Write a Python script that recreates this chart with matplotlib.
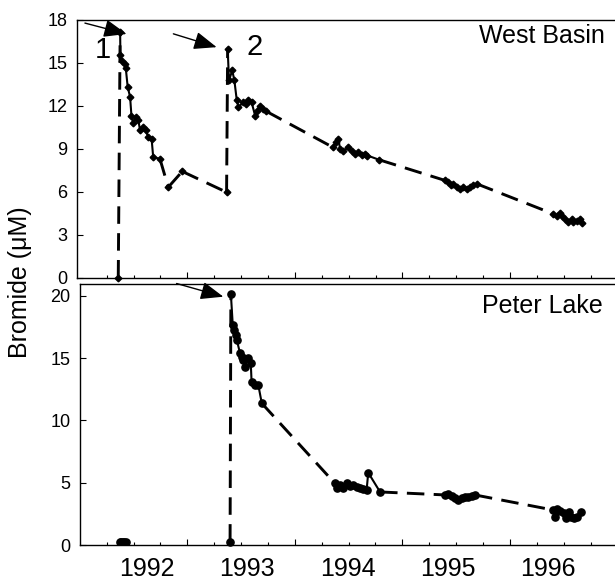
import matplotlib
matplotlib.use("Agg")
import matplotlib.pyplot as plt
import matplotlib.transforms as mtransforms

plt.rcParams['font.family'] = ['Liberation Sans', 'DejaVu Sans']

# x = days since 1 Jan 1991, y = bromide (uM)
# West Basin
wb_day_0 = [143]
wb_br_0 = [0.0]
wb_day_1 = [150, 151, 158, 168, 171, 178, 187, 192, 198, 208, 218, 224, 236, 245, 255, 267, 273, 298]
wb_br_1 = [17.1, 15.5, 15.1, 14.9, 14.6, 13.3, 12.6, 11.3, 10.8, 11.2, 10.96, 10.26, 10.5, 10.26, 9.79, 9.68, 8.4, 8.28]
wb_day_2 = [329]
wb_br_2 = [6.3]
wb_day_3 = [381]
wb_br_3 = [7.4]
wb_day_4 = [546]
wb_br_4 = [5.95]
wb_day_5 = [550, 555, 567, 575, 584, 590, 608, 618, 627, 639, 652, 659, 670, 683, 693]
wb_br_5 = [15.96, 13.75, 14.45, 13.75, 12.35, 11.88, 12.23, 12.1, 12.35, 12.23, 11.3, 11.6, 12.0, 11.77, 11.6]
wb_day_6 = [941, 953, 962, 968, 980, 999, 1011, 1024, 1036, 1049, 1061, 1070, 1114]
wb_br_6 = [9.09, 9.44, 9.68, 8.98, 8.8, 9.09, 8.8, 8.6, 8.75, 8.55, 8.6, 8.51, 8.21]
wb_day_7 = [1359, 1371, 1380, 1389, 1402, 1414, 1427, 1439, 1452, 1464, 1476]
wb_br_7 = [6.77, 6.65, 6.42, 6.54, 6.3, 6.19, 6.3, 6.19, 6.3, 6.42, 6.54]
wb_day_8 = [1761, 1774, 1786, 1792, 1805, 1817, 1830, 1836, 1848, 1861, 1867]
wb_br_8 = [4.44, 4.28, 4.5, 4.28, 4.09, 3.9, 4.09, 3.86, 3.95, 4.09, 3.8]

# Peter Lake
pl_day_0 = [150, 155, 160, 165, 171]
pl_br_0 = [0.25, 0.22, 0.25, 0.22, 0.25]
pl_day_1 = [559]
pl_br_1 = [0.27]
pl_day_2 = [562, 569, 574, 581, 584, 596, 602, 608, 615, 627, 636, 639, 652, 664, 677]
pl_br_2 = [20.14, 17.67, 17.27, 16.87, 16.47, 15.4, 15.1, 14.86, 14.32, 15.0, 14.6, 13.12, 12.85, 12.85, 11.38]
pl_day_3 = [949, 956, 968, 980, 993, 1005, 1017, 1030, 1042, 1055, 1067, 1073, 1117]
pl_br_3 = [4.95, 4.55, 4.82, 4.55, 5.0, 4.74, 4.82, 4.68, 4.55, 4.47, 4.42, 5.81, 4.26]
pl_day_4 = [1359, 1371, 1383, 1396, 1408, 1421, 1433, 1445, 1458, 1470]
pl_br_4 = [4.02, 4.07, 3.94, 3.75, 3.61, 3.75, 3.83, 3.88, 3.94, 4.02]
pl_day_5 = [1761, 1767, 1775, 1788, 1801, 1807, 1820, 1826, 1838, 1851, 1863]
pl_br_5 = [2.81, 2.22, 2.87, 2.76, 2.54, 2.14, 2.68, 2.22, 2.14, 2.27, 2.68]

year_labels = ['1992', '1993', '1994', '1995', '1996']
year_pos = [250, 622, 998, 1370, 1742]

wb_segs = [(wb_day_0, wb_br_0), (wb_day_1, wb_br_1), (wb_day_2, wb_br_2),
           (wb_day_3, wb_br_3), (wb_day_4, wb_br_4), (wb_day_5, wb_br_5),
           (wb_day_6, wb_br_6), (wb_day_7, wb_br_7), (wb_day_8, wb_br_8)]
pl_segs = [(pl_day_1, pl_br_1), (pl_day_2, pl_br_2), (pl_day_3, pl_br_3),
           (pl_day_4, pl_br_4), (pl_day_5, pl_br_5)]

W, H = 615, 582
fig = plt.figure(figsize=(W / 100, H / 100), dpi=100)
ax1 = fig.add_axes([77 / W, 1 - 277.5 / H, 1 - 77 / W, (277.5 - 19.5) / H])
ax2 = fig.add_axes([80 / W, 1 - 545 / H, 1 - 80 / W, (545 - 283.5) / H])


def draw(ax, segs, marker, ms):
    # dashed between sampling periods, solid within
    for (d0, v0), (d1, v1) in zip(segs[:-1], segs[1:]):
        ax.plot([d0[-1], d1[0]], [v0[-1], v1[0]], color='k', lw=2.1,
                dashes=(6, 3.2), solid_capstyle='butt', zorder=2)
    for d, v in segs:
        ax.plot(d, v, color='k', lw=1.5, marker=marker, ms=ms, zorder=3,
                clip_on=False)


draw(ax1, wb_segs, 'D', 3.4)
draw(ax2, pl_segs, 'o', 5.2)
ax2.plot(pl_day_0, pl_br_0, color='k', lw=1.5, marker='o', ms=5.2, zorder=3)

ax1.set_xlim(-10.5, 1991)
ax1.set_ylim(0, 18)
ax1.set_yticks([0, 3, 6, 9, 12, 15, 18])
ax2.set_xlim(0.7, 1991)
ax2.set_ylim(0, 21)
ax2.set_yticks([0, 5, 10, 15, 20])

for ax in (ax1, ax2):
    ax.spines['right'].set_visible(False)
    for s in ax.spines.values():
        s.set_linewidth(1.0)
    ax.set_xticks(range(400, 1991, 400))
    ax.set_xticks(range(100, 1991, 100), minor=True)
    ax.set_xticklabels([])
    ax.tick_params(axis='x', which='major', direction='in', length=4.5, width=0.8)
    ax.tick_params(axis='x', which='minor', direction='in', length=2.4, width=0.8)
    ax.tick_params(axis='y', direction='in', length=4.5, width=0.8, pad=7,
                   labelsize=13)

trans = mtransforms.blended_transform_factory(ax2.transData, fig.transFigure)
for lab, d in zip(year_labels, year_pos):
    ax2.text(d, 1 - 576.5 / H, lab, transform=trans, ha='center',
             va='baseline', fontsize=18)

fig.text(1 - 10 / W, 1 - 42.7 / H, 'West Basin', ha='right', va='baseline',
         fontsize=18)
fig.text(1 - 12 / W, 1 - 313 / H, 'Peter Lake', ha='right', va='baseline',
         fontsize=18)
fig.text(20 / W, 1 - 282 / H, 'Bromide (\u03bcM)', rotation=90, ha='center',
         va='center', fontsize=18)

arrow = dict(arrowstyle='-|>,head_length=1.4,head_width=0.55', color='k',
             lw=1.0, mutation_scale=10, shrinkA=0, shrinkB=0)
ax1.annotate('', xy=(174, 16.99), xytext=(19, 17.75), arrowprops=arrow,
             annotation_clip=False)
ax1.annotate('', xy=(509, 16.07), xytext=(348, 17.0), arrowprops=arrow)
ax2.annotate('', xy=(534, 19.94), xytext=(360, 21.0), arrowprops=arrow,
             annotation_clip=False)
ax1.text(85, 15.9, '1', ha='center', va='center', fontsize=21)
ax1.text(652, 16.05, '2', ha='center', va='center', fontsize=21)

fig.savefig('out.png', dpi=100)
